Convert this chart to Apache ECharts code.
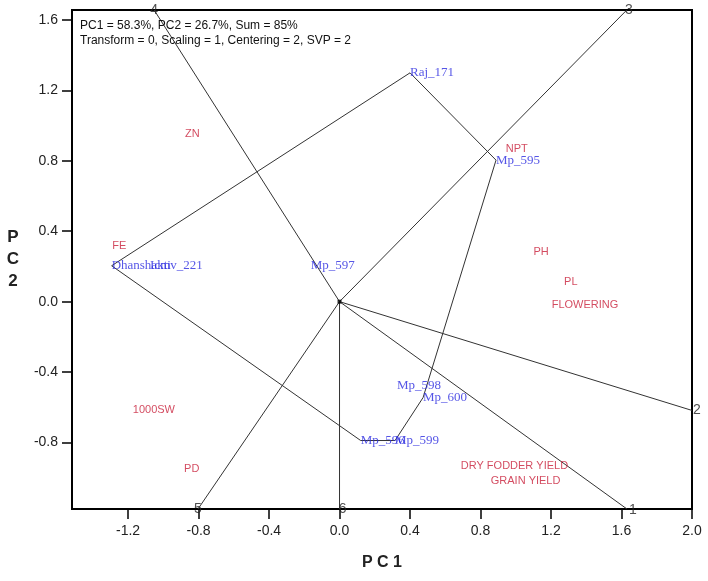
<!DOCTYPE html>
<html>
<head>
<meta charset="utf-8">
<script src="https://cdn.jsdelivr.net/npm/echarts@6/dist/echarts.min.js"></script>
<style>html,body{margin:0;padding:0;background:#fff}#c{width:708px;height:581px}</style>
</head>
<body>
<div id="c"></div>
<script>
// ---- data ----
const xTicks = [-1.2, -0.8, -0.4, 0.0, 0.4, 0.8, 1.2, 1.6, 2.0];
const yTicks = [-0.8, -0.4, 0.0, 0.4, 0.8, 1.2, 1.6];
const xRange = [-1.518, 2.0];
const yRange = [-1.178, 1.657];

const genotypeNames = ['Raj_171', 'Mp_595', 'Mp_600', 'Mp_598', 'Mp_599', 'Mp_596', 'Mp_597', 'Dhanshakti', 'Icmv_221'];
const genotypeX = [0.400, 0.888, 0.474, 0.326, 0.315, 0.120, -0.163, -1.293, -1.075];
const genotypeY = [1.300, 0.804, -0.545, -0.477, -0.789, -0.789, 0.204, 0.204, 0.204];

const traitNames = ['ZN', 'FE', 'NPT', 'PH', 'PL', 'FLOWERING', '1000SW', 'PD', 'DRY FODDER YIELD', 'GRAIN YIELD'];
const traitX = [-0.877, -1.289, 0.943, 1.100, 1.274, 1.204, -1.173, -0.882, 0.688, 0.858];
const traitY = [0.953, 0.314, 0.868, 0.280, 0.110, -0.017, -0.613, -0.953, -0.931, -1.020];

// convex hull (polygon) vertex order by genotype name
const hullOrder = ['Raj_171', 'Mp_595', 'Mp_600', 'Mp_599', 'Mp_596', 'Dhanshakti', 'Raj_171'];

// rays from origin, sector labels
const rayLabels = ['1', '2', '3', '4', '5', '6'];
const rayX = [1.631, 2.000, 1.630, -1.052, -0.803, 0.000];
const rayY = [-1.178, -0.618, 1.657, 1.657, -1.178, -1.178];

const headerLines = ['PC1 = 58.3%, PC2 = 26.7%, Sum = 85%', 'Transform = 0, Scaling = 1, Centering = 2, SVP = 2'];

// ---- build ----
const hullData = hullOrder.map(n => { const i = genotypeNames.indexOf(n); return [genotypeX[i], genotypeY[i]]; });
const rayOffsets = [[6, 1], [5, 0], [2, 0], [0, 0], [0, 0], [3, 0]];

const series = [];
series.push({
  type: 'line', data: hullData, symbol: 'none', silent: true,
  lineStyle: { color: '#333', width: 1 }, z: 2
});
rayLabels.forEach((lab, i) => {
  series.push({
    type: 'line', symbol: 'none', silent: true,
    data: [[0, 0], { value: [rayX[i], rayY[i]] }],
    lineStyle: { color: '#333', width: 1 }, z: 2
  });
});
series.push({
  type: 'scatter', symbolSize: 0, silent: true, z: 5,
  data: rayLabels.map((lab, i) => ({ value: [rayX[i], rayY[i]], name: lab,
    label: { offset: rayOffsets[i] } })),
  label: { show: true, position: 'inside', formatter: p => p.name,
    fontFamily: 'Liberation Sans, Arial', fontSize: 14, color: '#222' },
  clip: false
});
series.push({
  type: 'scatter', symbol: 'rect', symbolSize: 4, silent: true, z: 4,
  itemStyle: { color: '#000' }, data: [[0, 0]]
});
series.push({
  type: 'scatter', symbolSize: 0, silent: true, z: 6,
  data: genotypeNames.map((n, i) => ({ value: [genotypeX[i], genotypeY[i]], name: n })),
  label: { show: true, position: 'right', distance: 0, formatter: p => p.name,
    fontFamily: 'Liberation Serif, Times New Roman', fontSize: 13, color: '#2a2ae0' }
});
series.push({
  type: 'scatter', symbolSize: 0, silent: true, z: 6,
  data: traitNames.map((n, i) => ({ value: [traitX[i], traitY[i]], name: n })),
  label: { show: true, position: 'right', distance: 0, formatter: p => p.name,
    fontFamily: 'Liberation Sans, Arial', fontSize: 11, color: '#c81e38' }
});

const chart = echarts.init(document.getElementById('c'), null, { renderer: 'canvas' });
chart.setOption({
  animation: false,
  backgroundColor: '#fff',
  title: {
    text: headerLines.join('\n'), left: 75, top: 13,
    textStyle: { fontFamily: 'Liberation Sans, Arial', fontSize: 12, fontWeight: 'normal', color: '#111', lineHeight: 15 }
  },
  grid: { left: 72, right: 16, top: 10, bottom: 72, show: true, borderColor: '#000', borderWidth: 2, backgroundColor: 'transparent' },
  xAxis: {
    type: 'value', min: xRange[0], max: xRange[1],
    name: 'P C 1', nameLocation: 'middle', nameGap: 46,
    nameTextStyle: { fontFamily: 'Liberation Sans, Arial', fontSize: 16, fontWeight: 'bold', color: '#222' },
    axisLine: { show: true, onZero: false, lineStyle: { color: '#000', width: 2 } },
    axisTick: { show: true, inside: false, length: 10, customValues: xTicks, lineStyle: { color: '#000', width: 1.5 } },
    axisLabel: { customValues: xTicks, formatter: v => v.toFixed(1), margin: 15,
      fontFamily: 'Liberation Sans, Arial', fontSize: 14, color: '#222' },
    splitLine: { show: false }
  },
  yAxis: {
    type: 'value', min: yRange[0], max: yRange[1],
    name: 'P\nC\n2', nameLocation: 'middle', nameGap: 59, nameRotate: 0,
    nameTextStyle: { fontFamily: 'Liberation Sans, Arial', fontSize: 17, fontWeight: 'bold', color: '#222', lineHeight: 22, align: 'center' },
    axisLine: { show: true, onZero: false, lineStyle: { color: '#000', width: 2 } },
    axisTick: { show: true, inside: false, length: 10, customValues: yTicks, lineStyle: { color: '#000', width: 1.5 } },
    axisLabel: { customValues: yTicks, formatter: v => v.toFixed(1), margin: 14,
      fontFamily: 'Liberation Sans, Arial', fontSize: 14, color: '#222' },
    splitLine: { show: false }
  },
  series: series
});
</script>
</body>
</html>
